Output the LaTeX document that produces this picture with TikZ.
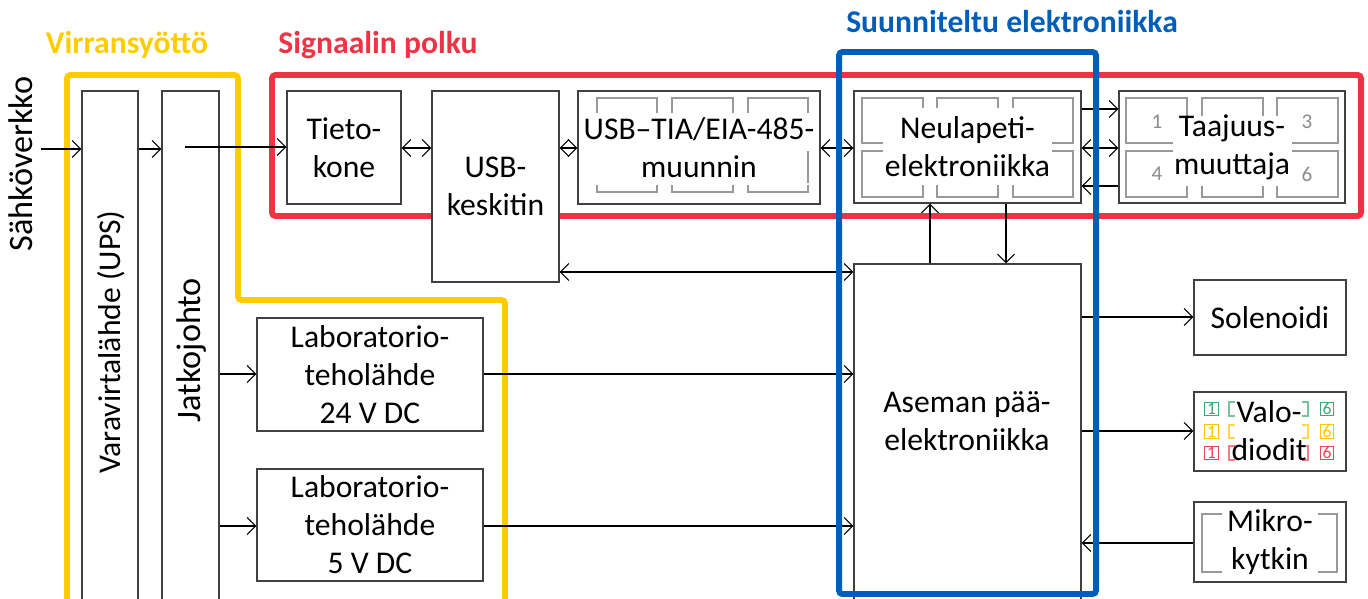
\documentclass[tikz,border=0pt]{standalone}
\usepackage{fontspec}
\setmainfont{Carlito}
\usetikzlibrary{arrows.meta,fit}
\definecolor{powerylw}{RGB}{255,204,0}
\definecolor{signalred}{RGB}{238,52,68}
\definecolor{designblue}{RGB}{0,94,184}
\definecolor{ledgreen}{RGB}{60,170,120}
\definecolor{ledylw}{RGB}{255,196,0}
\definecolor{ledred}{RGB}{232,72,84}
\begin{document}
\begin{tikzpicture}[x=0.02cm, y=-0.02cm,
  blk/.style={draw=black!75, fill=white, line width=0.8pt, inner sep=0pt},
  txt/.style={inner sep=0pt, align=center, font=\fontsize{18}{21.6}\selectfont},
  wbg/.style={fill=white, inner sep=0pt},
  num/.style={inner sep=0pt, font=\fontsize{12}{12}\selectfont, text=black!45},
  lednum/.style={inner sep=0pt, font=\fontsize{10}{10}\selectfont},
  conn/.style={line width=0.6pt, -{Straight Barb[length=1.7mm,width=3.4mm]}},
  biconn/.style={line width=0.6pt, {Straight Barb[length=1.7mm,width=3.4mm]}-{Straight Barb[length=1.7mm,width=3.4mm]}},
  dec/.style={draw=black!40, line width=0.6pt},
  grpframe/.style={line width=3.4pt, rounded corners=2pt},
  grptitle/.style={inner sep=0pt, font=\fontsize{18}{20}\selectfont\bfseries}]
\clip (0,0) rectangle (1368,598);

% group frames behind the blocks
\draw[grpframe, powerylw] (67,610) -- (67,75) -- (238,75) -- (238,300) -- (505,300) -- (505,610);
\draw[grpframe, signalred] (272,75) rectangle (1361,216);

% power supply chain
\node[txt, rotate=90, font=\fontsize{19.5}{22}\selectfont] (gridtxt) at (21,164) {Sähköverkko};
\node[blk, fit={(82,91) (138,610)}] (ups) {};
\node[txt, rotate=90] (upstxt) at (111,342) {Varavirtalähde (UPS)};
\node[blk, fit={(162,91) (219,610)}] (jatko) {};
\node[txt, rotate=90, font=\fontsize{19.5}{22}\selectfont] (jatkotxt) at (192,350) {Jatkojohto};
\node[blk, fit={(257,318) (483,431)}] (lab24) {};
\node[txt] (lab24txt) at (lab24) {Laboratorio-\\teholähde\\24 V DC};
\node[blk, fit={(257,469) (483,581)}] (lab5) {};
\node[txt] (lab5txt) at (lab5) {Laboratorio-\\teholähde\\5 V DC};

% signal path
\node[blk, fit={(287,91) (401,204)}] (tieto) {};
\node[txt] (tietotxt) at (tieto) {Tieto-\\kone};
\node[blk, fit={(432,91) (559,282)}] (usbhub) {};
\node[txt] (usbhubtxt) at (usbhub) {USB-\\keskitin};
\node[blk, fit={(578,91) (820,204)}] (muunnin) {};
\foreach \xa/\xb in {597/657,672/733,748/808}{
  \draw[dec] (\xa,113) -- (\xa,98) -- (\xb,98) -- (\xb,113);
  \draw[dec] (\xa,185) -- (\xa,192) -- (\xb,192) -- (\xb,185);
}
\draw[dec] (808,151) -- (808,183);
\node[txt] (muunnintxt) at (muunnin) {USB–TIA/EIA-485-\\muunnin};
\node[blk, fit={(854,91) (1081,203)}] (neula) {};
\foreach \xa/\xb in {862/923,937/998,1013/1073}
  \foreach \ya/\yb in {98/143,151/197}
    \draw[dec] (\xa,\ya) rectangle (\xb,\yb);
\node[wbg, fit={(883,108) (1052,185)}] (neulabg) {};
\node[txt] (neulatxt) at (neula) {Neulapeti-\\elektroniikka};
\node[blk, fit={(1119,91) (1345,203)}] (taaj) {};
\foreach \xa/\xb in {1126/1187,1202/1263,1277/1338}
  \foreach \ya/\yb in {98/143,151/197}
    \draw[dec] (\xa,\ya) rectangle (\xb,\yb);
\node[num] (taaj1) at (1157,122) {1};
\node[num] (taaj3) at (1307,122) {3};
\node[num] (taaj4) at (1157,174) {4};
\node[num] (taaj6) at (1307,174) {6};
\node[wbg, fit={(1173,116) (1292,186)}] (taajbg) {};
\node[txt] (taajtxt) at (taaj) {Taajuus-\\muuttaja};

% station main electronics and peripherals
\node[blk, fit={(854,264) (1081,610)}] (asema) {};
\node[txt] (asematxt) at (967,421) {Aseman pää-\\elektroniikka};
\node[blk, fit={(1194,280) (1346,355)}] (solen) {};
\node[txt] (solentxt) at (solen) {Solenoidi};
\node[blk, fit={(1194,392) (1346,471)}] (valo) {};
\foreach \clr/\ya/\yb [count=\r] in {ledgreen/402/416,ledylw/425/438,ledred/446/460}{
  \draw[draw=\clr!70, line width=0.6pt] (1229,\ya) rectangle (1308,\yb);
  \node[draw=\clr, line width=0.6pt, minimum width=0.27cm, minimum height=0.27cm,
        lednum, text=\clr] (ledl\r) at (1211.5,{(\ya+\yb)/2}) {1};
  \node[draw=\clr, line width=0.6pt, minimum width=0.27cm, minimum height=0.27cm,
        lednum, text=\clr] (ledr\r) at (1327,{(\ya+\yb)/2}) {6};
}
\node[wbg, fit={(1235,397) (1302,465)}] (valobg) {};
\node[txt] (valotxt) at (1269,431) {Valo-\\diodit};
\node[blk, fit={(1194,502) (1346,582)}] (mikro) {};
\draw[dec] (1202,514) rectangle (1337,572);
\node[wbg, fit={(1222,509) (1318,577)}] (mikrobg) {};
\node[txt] (mikrotxt) at (mikro) {Mikro-\\kytkin};

% connectors
\coordinate (gridend) at (41,149);
\coordinate (jatkotap) at (185,147);
\draw[conn] (gridend) -- (ups.west |- gridend);
\draw[conn] (ups.east |- 0,149) -- (jatko.west |- 0,149);
\draw[conn] (jatkotap) -- (tieto.west |- jatkotap);
\draw[conn] (jatko.east |- 0,374) -- (lab24.west |- 0,374);
\draw[conn] (jatko.east |- 0,526) -- (lab5.west |- 0,526);
\draw[biconn] (tieto.east |- 0,148) -- (usbhub.west |- 0,148);
\draw[biconn] (usbhub.east |- 0,148) -- (muunnin.west |- 0,148);
\draw[biconn] (muunnin.east |- 0,148) -- (neula.west |- 0,148);
\draw[conn] (neula.east |- 0,109) -- (taaj.west |- 0,109);
\draw[biconn] (neula.east |- 0,148) -- (taaj.west |- 0,148);
\draw[conn] (taaj.west |- 0,186) -- (neula.east |- 0,186);
\draw[conn] (asema.north -| 930,0) -- (neula.south -| 930,0);
\draw[conn] (neula.south -| 1006,0) -- (asema.north -| 1006,0);
\draw[biconn] (usbhub.east |- 0,272) -- (asema.west |- 0,272);
\draw[conn] (lab24.east |- 0,374) -- (asema.west |- 0,374);
\draw[conn] (lab5.east |- 0,526) -- (asema.west |- 0,526);
\draw[conn] (asema.east |- 0,317) -- (solen.west |- 0,317);
\draw[conn] (asema.east |- 0,431) -- (valo.west |- 0,431);
\draw[conn] (mikro.west |- 0,543) -- (asema.east |- 0,543);

% designed electronics frame and group titles
\draw[grpframe, designblue] (839,52) rectangle (1096,594);
\node[grptitle, text=powerylw] (powertitle) at (127,45) {Virransyöttö};
\node[grptitle, text=signalred] (signaltitle) at (378,45) {Signaalin polku};
\node[grptitle, text=designblue] (designtitle) at (1012,22) {Suunniteltu elektroniikka};
\end{tikzpicture}
\end{document}
